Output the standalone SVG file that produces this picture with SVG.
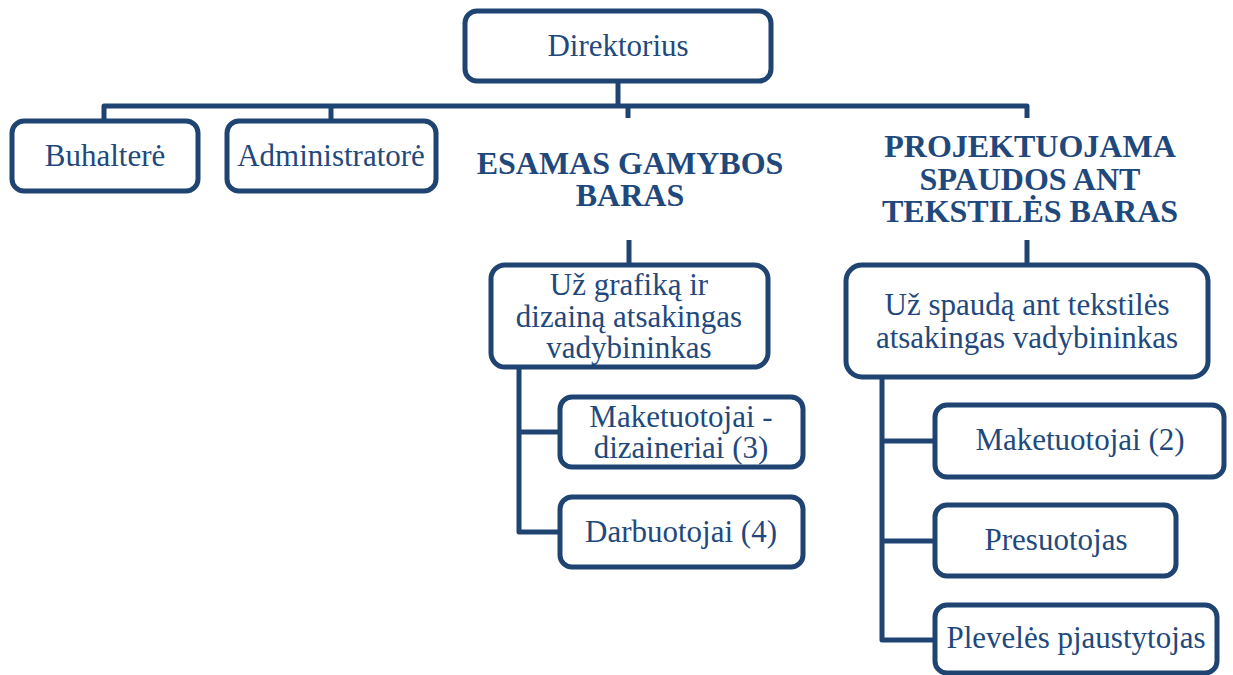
<svg xmlns="http://www.w3.org/2000/svg" width="1233" height="675" viewBox="0 0 1233 675">
<style>
.box{fill:#fff;stroke:#1F4472;stroke-width:5}
.t{font-family:"Liberation Serif","Times New Roman",serif;font-size:31px;fill:#1F497D;text-anchor:middle}
.b{font-family:"Liberation Serif","Times New Roman",serif;font-size:32px;font-weight:bold;fill:#1F497D;text-anchor:middle}
.c{fill:none;stroke:#1F4472;stroke-width:5;stroke-linejoin:round}
</style>
<rect width="1233" height="675" fill="#fff"/>
<g id="connectors">
<path class="c" d="M618 80V106"/>
<path class="c" d="M104 121V106H1027V118"/>
<path class="c" d="M331 106V121"/>
<path class="c" d="M628 106V118"/>
<path class="c" d="M629 240V265"/>
<path class="c" d="M1027 240V265"/>
<path class="c" d="M519 367V532H560M519 432H560"/>
<path class="c" d="M882 377V640H935M882 441H935M882 541H935"/>
</g>
<g id="direktorius"><rect class="box" x="465" y="11" width="306" height="70" rx="12"/><text class="t" x="618" y="56">Direktorius</text></g>
<g id="buhaltere"><rect class="box" x="12" y="121" width="186" height="70" rx="12"/><text class="t" x="105" y="166">Buhalterė</text></g>
<g id="administratore"><rect class="box" x="227" y="121" width="209" height="70" rx="12"/><text class="t" x="331" y="166">Administratorė</text></g>
<g id="esamas"><text class="b" x="630" y="174">ESAMAS GAMYBOS</text><text class="b" x="630" y="206">BARAS</text></g>
<g id="projektuojama"><text class="b" x="1030" y="157">PROJEKTUOJAMA</text><text class="b" x="1030" y="190">SPAUDOS ANT</text><text class="b" x="1030" y="222">TEKSTILĖS BARAS</text></g>
<g id="grafika"><rect class="box" x="491" y="265" width="277" height="102" rx="14"/><text class="t" x="629" y="295">Už grafiką ir</text><text class="t" x="629" y="327">dizainą atsakingas</text><text class="t" x="629" y="358">vadybininkas</text></g>
<g id="maketuotojai-dizaineriai"><rect class="box" x="560" y="397" width="243" height="70" rx="12"/><text class="t" x="681" y="427">Maketuotojai -</text><text class="t" x="681" y="458">dizaineriai (3)</text></g>
<g id="darbuotojai"><rect class="box" x="560" y="497" width="243" height="70" rx="12"/><text class="t" x="681" y="542">Darbuotojai (4)</text></g>
<g id="spauda"><rect class="box" x="846" y="265" width="362" height="112" rx="16"/><text class="t" x="1027" y="315">Už spaudą ant tekstilės</text><text class="t" x="1027" y="348">atsakingas vadybininkas</text></g>
<g id="maketuotojai"><rect class="box" x="935" y="405" width="289" height="72" rx="12"/><text class="t" x="1080" y="450">Maketuotojai (2)</text></g>
<g id="presuotojas"><rect class="box" x="935" y="505" width="241" height="71" rx="12"/><text class="t" x="1056" y="550">Presuotojas</text></g>
<g id="plevele"><rect class="box" x="935" y="605" width="282" height="68" rx="12"/><text class="t" x="1076" y="648">Plevelės pjaustytojas</text></g>
</svg>
